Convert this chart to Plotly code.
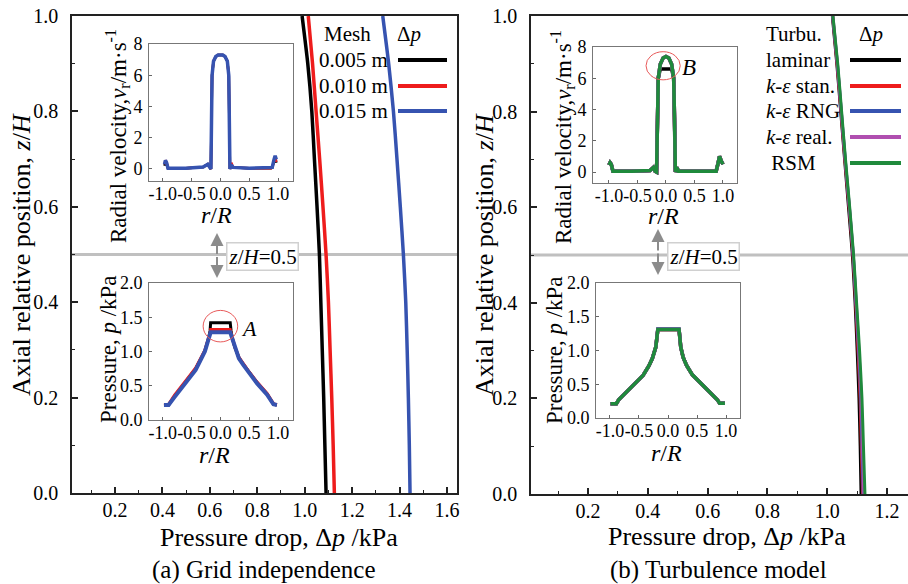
import plotly.graph_objects as go

W, H = 908, 584
def px(x):
    return x / W
def py(y):
    return 1 - y / H

FONT = "Liberation Serif, Times New Roman, Times, serif"

# ---------------- data: main panels ----------------
z_pos = [0.0, 0.1, 0.2, 0.3, 0.4, 0.5, 0.6, 0.7, 0.8, 0.9, 1.0]

mesh_labels = ["0.005 m", "0.010 m", "0.015 m"]
mesh_colors = ["#000000", "#ee1c1c", "#3653b0"]
dp_mesh_005 = [1.090, 1.085, 1.080, 1.074, 1.068, 1.062, 1.052, 1.041, 1.030, 1.013, 0.989]
dp_mesh_010 = [1.125, 1.120, 1.114, 1.107, 1.100, 1.090, 1.077, 1.063, 1.048, 1.033, 1.015]
dp_mesh_015 = [1.444, 1.441, 1.437, 1.432, 1.426, 1.416, 1.403, 1.389, 1.374, 1.354, 1.329]

turb_labels = ["laminar", "<i>k</i>-<i>ε</i> stan.", "<i>k</i>-<i>ε</i> RNG",
               "<i>k</i>-<i>ε</i> real.", " RSM"]
turb_colors = ["#000000", "#ee1c1c", "#3653b0", "#b04fb0", "#1f8a3c"]
dp_laminar = [1.113, 1.110, 1.106, 1.100, 1.093, 1.084, 1.071, 1.058, 1.045, 1.032, 1.017]
dp_ke_stan = [1.118, 1.114, 1.110, 1.103, 1.095, 1.086, 1.073, 1.059, 1.046, 1.033, 1.018]
dp_ke_rng = [1.120, 1.116, 1.112, 1.105, 1.096, 1.087, 1.074, 1.060, 1.047, 1.034, 1.018]
dp_ke_real = [1.122, 1.118, 1.114, 1.106, 1.097, 1.087, 1.074, 1.060, 1.047, 1.034, 1.019]
dp_rsm = [1.126, 1.121, 1.116, 1.108, 1.098, 1.088, 1.075, 1.061, 1.048, 1.035, 1.019]

# ---------------- data: insets ----------------
r_vel_a = [-0.97, -0.955, -0.935, -0.91, -0.60, -0.30, -0.22, -0.19, -0.165, -0.155, -0.145,
           -0.12, -0.08, -0.04, 0.0, 0.04, 0.08, 0.12, 0.145, 0.155, 0.165, 0.19, 0.22,
           0.50, 0.88, 0.90, 0.93, 0.95, 0.97]
vel_mesh_005 = [0.20, 0.50, 0.40, 0.05, 0.05, 0.12, 0.30, 0.10, 0.0, 3.0, 6.0,
                6.9, 7.2, 7.3, 7.3, 7.3, 7.2, 6.9, 6.0, 3.0, 0.0, 0.30, 0.10,
                0.05, 0.05, 0.10, 0.60, 0.80, 0.40]
vel_mesh_010 = [0.30, 0.55, 0.40, 0.05, 0.05, 0.12, 0.30, 0.10, 0.0, 3.0, 6.0,
                6.9, 7.2, 7.3, 7.3, 7.3, 7.2, 6.9, 6.0, 3.0, 0.0, 0.40, 0.10,
                0.05, 0.05, 0.10, 0.55, 0.75, 0.45]
vel_mesh_015 = [0.30, 0.55, 0.40, 0.05, 0.05, 0.12, 0.30, 0.10, 0.0, 3.0, 6.0,
                6.9, 7.2, 7.3, 7.3, 7.3, 7.2, 6.9, 6.0, 3.0, 0.0, 0.25, 0.10,
                0.05, 0.05, 0.10, 0.60, 0.85, 0.60]

r_p_a = [-0.98, -0.90, -0.80, -0.66, -0.54, -0.43, -0.34, -0.27, -0.21, -0.18, -0.17,
         0.17, 0.185, 0.21, 0.25, 0.32, 0.40, 0.50, 0.64, 0.81, 0.92, 0.98]
p_mesh_005 = [0.22, 0.22, 0.34, 0.50, 0.62, 0.75, 0.89, 1.01, 1.18, 1.30, 1.42,
              1.42, 1.30, 1.18, 1.06, 0.91, 0.81, 0.69, 0.54, 0.38, 0.23, 0.22]
p_mesh_010 = [0.22, 0.23, 0.36, 0.52, 0.64, 0.76, 0.90, 1.02, 1.19, 1.26, 1.32,
              1.32, 1.27, 1.19, 1.07, 0.92, 0.82, 0.70, 0.55, 0.39, 0.24, 0.22]
p_mesh_015 = [0.22, 0.22, 0.33, 0.48, 0.60, 0.73, 0.88, 1.00, 1.17, 1.24, 1.28,
              1.28, 1.24, 1.17, 1.05, 0.90, 0.80, 0.68, 0.53, 0.37, 0.23, 0.22]

r_vel_b = [-1.0, -0.98, -0.96, -0.93, -0.60, -0.28, -0.22, -0.19, -0.165, -0.15, -0.135,
           -0.10, -0.05, 0.0, 0.05, 0.10, 0.135, 0.15, 0.165, 0.19, 0.22,
           0.50, 0.88, 0.91, 0.94, 0.97, 1.0]
vel_laminar = [0.45, 0.60, 0.50, 0.05, 0.05, 0.10, 0.30, 0.05, 0.0, 3.5, 6.0,
               6.6, 6.6, 6.6, 6.6, 6.6, 6.0, 3.5, 0.0, 0.30, 0.05,
               0.05, 0.05, 0.50, 1.00, 0.70, 0.50]
vel_ke_stan = [0.45, 0.60, 0.50, 0.05, 0.05, 0.10, 0.30, 0.05, 0.0, 3.5, 6.0,
               6.9, 7.3, 7.4, 7.3, 6.9, 6.0, 3.5, 0.0, 0.30, 0.05,
               0.05, 0.05, 0.50, 1.00, 0.70, 0.50]
vel_ke_rng = [0.45, 0.60, 0.50, 0.05, 0.05, 0.10, 0.30, 0.05, 0.0, 3.5, 6.0,
              6.9, 7.3, 7.4, 7.3, 6.9, 6.0, 3.5, 0.0, 0.30, 0.05,
              0.05, 0.05, 0.50, 1.00, 0.70, 0.50]
vel_ke_real = [0.45, 0.60, 0.50, 0.05, 0.05, 0.10, 0.30, 0.05, 0.0, 3.5, 6.0,
               6.9, 7.3, 7.4, 7.3, 6.9, 6.0, 3.5, 0.0, 0.30, 0.05,
               0.05, 0.05, 0.50, 1.00, 0.70, 0.50]
vel_rsm = [0.45, 0.60, 0.50, 0.05, 0.05, 0.10, 0.30, 0.05, 0.0, 3.5, 6.0,
           6.9, 7.3, 7.4, 7.3, 6.9, 6.0, 3.5, 0.0, 0.30, 0.05,
           0.05, 0.05, 0.50, 1.00, 0.70, 0.50]

r_p_b = [-0.99, -0.89, -0.85, -0.71, -0.57, -0.43, -0.33, -0.27, -0.21, -0.185, -0.175,
         0.19, 0.20, 0.22, 0.26, 0.32, 0.42, 0.55, 0.67, 0.78, 0.85, 0.89, 0.98]
p_laminar = [0.21, 0.21, 0.27, 0.39, 0.50, 0.63, 0.77, 0.88, 1.05, 1.20, 1.31,
             1.31, 1.20, 1.05, 0.90, 0.78, 0.64, 0.53, 0.43, 0.34, 0.27, 0.22, 0.22]
p_ke_stan = [0.21, 0.21, 0.27, 0.39, 0.50, 0.63, 0.77, 0.88, 1.05, 1.20, 1.31,
             1.31, 1.20, 1.05, 0.90, 0.78, 0.64, 0.53, 0.43, 0.34, 0.27, 0.22, 0.22]
p_ke_rng = [0.21, 0.21, 0.27, 0.39, 0.50, 0.63, 0.77, 0.88, 1.05, 1.20, 1.32,
            1.32, 1.20, 1.05, 0.90, 0.78, 0.64, 0.53, 0.43, 0.34, 0.27, 0.22, 0.22]
p_ke_real = [0.21, 0.21, 0.27, 0.39, 0.50, 0.63, 0.77, 0.88, 1.05, 1.20, 1.31,
             1.31, 1.20, 1.05, 0.90, 0.78, 0.64, 0.53, 0.43, 0.34, 0.27, 0.22, 0.22]
p_rsm = [0.21, 0.21, 0.27, 0.39, 0.50, 0.63, 0.77, 0.88, 1.05, 1.20, 1.31,
         1.31, 1.20, 1.05, 0.90, 0.78, 0.64, 0.53, 0.43, 0.34, 0.27, 0.22, 0.22]

inset_r_ticks = [-1.0, -0.5, 0.0, 0.5, 1.0]
inset_r_ticktext = ["-1.0", "-0.5", "0.0", "0.5", "1.0"]

# ---------------- figure ----------------
fig = go.Figure()

dp_mesh = [dp_mesh_005, dp_mesh_010, dp_mesh_015]
vel_mesh = [vel_mesh_005, vel_mesh_010, vel_mesh_015]
p_mesh = [p_mesh_005, p_mesh_010, p_mesh_015]
for i in range(3):
    fig.add_trace(go.Scatter(x=dp_mesh[i], y=z_pos, mode="lines", line=dict(color=mesh_colors[i], width=3.5, shape="spline", smoothing=0.6),
                             xaxis="x", yaxis="y", name=mesh_labels[i]))
for i in range(3):
    fig.add_trace(go.Scatter(x=r_vel_a, y=vel_mesh[i], mode="lines", line=dict(color=mesh_colors[i], width=2.5 if i < 2 else 3.5),
                             xaxis="x3", yaxis="y3", showlegend=False))
for i in range(3):
    fig.add_trace(go.Scatter(x=r_p_a, y=p_mesh[i], mode="lines", line=dict(color=mesh_colors[i], width=3 if i < 2 else 4),
                             xaxis="x4", yaxis="y4", showlegend=False))

dp_turb = [dp_laminar, dp_ke_stan, dp_ke_rng, dp_ke_real, dp_rsm]
vel_turb = [vel_laminar, vel_ke_stan, vel_ke_rng, vel_ke_real, vel_rsm]
p_turb = [p_laminar, p_ke_stan, p_ke_rng, p_ke_real, p_rsm]
for i in range(5):
    fig.add_trace(go.Scatter(x=dp_turb[i], y=z_pos, mode="lines", line=dict(color=turb_colors[i], width=3, shape="spline", smoothing=0.6),
                             xaxis="x2", yaxis="y2", name=turb_labels[i]))
for i in range(5):
    fig.add_trace(go.Scatter(x=r_vel_b, y=vel_turb[i], mode="lines", line=dict(color=turb_colors[i], width=3.5),
                             xaxis="x5", yaxis="y5", showlegend=False))
for i in range(5):
    fig.add_trace(go.Scatter(x=r_p_b, y=p_turb[i], mode="lines", line=dict(color=turb_colors[i], width=3.5),
                             xaxis="x6", yaxis="y6", showlegend=False))

def main_x(domain, rng, anchor):
    return dict(domain=domain, range=rng, anchor=anchor, automargin=False,
                tickmode="linear", tick0=0, dtick=0.2, tickformat=".1f",
                ticks="inside", ticklen=6, tickwidth=1.5, tickcolor="#222",
                minor=dict(dtick=0.1, tick0=0, ticks="inside", ticklen=3, tickwidth=1.2, tickcolor="#222"),
                showline=True, linecolor="#222", linewidth=1.5, mirror=True, showgrid=False, zeroline=False,
                tickfont=dict(size=20, family=FONT, color="black"), ticklabelstandoff=-2, tickangle=0)

def main_y(domain, anchor, mirror):
    return dict(domain=domain, range=[0, 1.0], anchor=anchor, automargin=False,
                tickmode="linear", tick0=0, dtick=0.2, tickformat=".1f",
                ticks="inside", ticklen=6, tickwidth=1.5, tickcolor="#222",
                minor=dict(dtick=0.1, tick0=0, ticks="inside", ticklen=3, tickwidth=1.2, tickcolor="#222"),
                showline=True, linecolor="#222", linewidth=1.5, mirror=mirror, showgrid=False, zeroline=False,
                tickfont=dict(size=20, family=FONT, color="black"), ticklabelstandoff=8)

def inset_x(domain, rng, anchor):
    return dict(domain=domain, range=rng, anchor=anchor, automargin=False,
                tickmode="array", tickvals=inset_r_ticks,
                ticktext=inset_r_ticktext, ticks="inside", ticklen=3, tickcolor="#666",
                showline=True, linecolor="#777", linewidth=1, mirror=True, showgrid=False, zeroline=False,
                tickfont=dict(size=18, family=FONT, color="black"), ticklabelstandoff=-4, tickangle=0)

def inset_y(domain, rng, anchor, dtick, fmt):
    return dict(domain=domain, range=rng, anchor=anchor, automargin=False,
                tickmode="linear", tick0=0, dtick=dtick, tickformat=fmt,
                ticks="inside", ticklen=3, tickcolor="#666",
                showline=True, linecolor="#777", linewidth=1, mirror=True, showgrid=False, zeroline=False,
                tickfont=dict(size=18, family=FONT, color="black"), ticklabelstandoff=2)

fig.update_layout(
    template="none",
    width=W, height=H, margin=dict(l=0, r=0, t=0, b=0, pad=0, autoexpand=False),
    paper_bgcolor="white", plot_bgcolor="white", showlegend=False,
    font=dict(family=FONT, color="black"),
    xaxis=main_x([px(72), px(457)], [0.019, 1.642], "y"),
    yaxis=main_y([py(493), py(16)], "x", True),
    xaxis2=main_x([px(531), 1.0], [0.0094, 1.270], "y2"),
    yaxis2=main_y([py(494), py(16)], "x2", False),
    xaxis3=inset_x([px(149), px(293)], [-1.24, 1.26], "y3"),
    yaxis3=inset_y([py(181), py(44)], [-0.77, 8.0], "x3", 2, "d"),
    xaxis4=inset_x([px(149), px(293)], [-1.24, 1.26], "y4"),
    yaxis4=inset_y([py(420), py(283)], [0, 2.0], "x4", 0.5, ".1f"),
    xaxis5=inset_x([px(593), px(737)], [-1.28, 1.246], "y5"),
    yaxis5=inset_y([py(183), py(47)], [-0.70, 8.0], "x5", 2, "d"),
    xaxis6=inset_x([px(596), px(740)], [-1.24, 1.24], "y6"),
    yaxis6=inset_y([py(418), py(283)], [0, 2.0], "x6", 0.5, ".1f"),
)

shapes = []
ann = []

def text(x, y, s, size, xanchor="center", angle=0, **kw):
    ann.append(dict(x=px(x), y=py(y), xref="paper", yref="paper", text=s, showarrow=False,
                    xanchor=xanchor, yanchor="middle", textangle=angle,
                    font=dict(size=size, family=FONT, color="black"), **kw))

# z/H = 0.5 reference lines
for xr, yr in [("x domain", "y"), ("x2 domain", "y2")]:
    shapes.append(dict(type="line", xref=xr, yref=yr, x0=0, x1=1, y0=0.5, y1=0.5,
                       line=dict(color="#c0c0c0", width=3), layer="below"))

# z/H label boxes
text(262.5, 256, "<i>z</i>/<i>H</i>=0.5", 21, bgcolor="white", bordercolor="#d0d0d0", borderwidth=1.5, borderpad=1)
text(703, 256, "<i>z</i>/<i>H</i>=0.5", 21, bgcolor="white", bordercolor="#d0d0d0", borderwidth=1.5, borderpad=1)

# double arrows
for ax_x, top, bot in [(217, 233, 278), (658, 229, 275)]:
    mid = (top + bot) / 2
    for tip in (top, bot):
        ann.append(dict(x=px(ax_x), y=py(tip), xref="paper", yref="paper", text="", showarrow=True,
                        ax=0, ay=mid - tip, axref="pixel", ayref="pixel", arrowhead=2, arrowsize=1.3,
                        arrowwidth=2, arrowcolor="#8c8c8c"))

# legends (a)
text(347, 34, "Mesh", 21)
text(409, 34, "Δ<i>p</i>", 21)
for i, lab in enumerate(mesh_labels):
    yy = [60, 86, 111][i]
    text(317, yy, lab, 21, xanchor="left")
    shapes.append(dict(type="line", xref="paper", yref="paper", x0=px(398), x1=px(447), y0=py(yy), y1=py(yy),
                       line=dict(color=mesh_colors[i], width=4)))
# legends (b)
text(764, 34, "Turbu.", 21, xanchor="left")
text(871, 34, "Δ<i>p</i>", 21)
for i, lab in enumerate(turb_labels):
    yy = [60, 86, 111, 137, 163][i]
    text(764, yy, lab, 21, xanchor="left")
    shapes.append(dict(type="line", xref="paper", yref="paper", x0=px(850), x1=px(901), y0=py(yy), y1=py(yy),
                       line=dict(color=turb_colors[i], width=4)))

# main axis titles
text(21, 255, "Axial relative position, <i>z</i>/<i>H</i>", 26, angle=-90)
text(484, 255, "Axial relative position, <i>z</i>/<i>H</i>", 26, angle=-90)
text(279, 537, "Pressure drop, Δ<i>p</i> /kPa", 26)
text(727, 536, "Pressure drop, Δ<i>p</i> /kPa", 26)
text(264, 570, "(a) Grid independence", 25)
text(718, 570, "(b) Turbulence model", 25)

# inset titles
vel_title = "Radial velocity,<i>v</i><sub>r</sub>/m·s<sup>-1</sup>"
p_title = "Pressure, <i>p</i> /kPa"
text(117, 136, vel_title, 23, angle=-90)
text(108, 349, p_title, 23, angle=-90)
text(562, 137, vel_title, 23, angle=-90)
text(554, 350, p_title, 23, angle=-90)
text(216, 215, "<i>r</i>/<i>R</i>", 24)
text(214, 455, "<i>r</i>/<i>R</i>", 24)
text(663, 216, "<i>r</i>/<i>R</i>", 24)
text(666, 453, "<i>r</i>/<i>R</i>", 24)

# highlight circles
shapes.append(dict(type="circle", xref="x4", yref="y4", x0=-0.30, x1=0.30, y0=1.14, y1=1.60,
                   line=dict(color="#e85a5a", width=1)))
ann.append(dict(x=0.50, y=1.33, xref="x4", yref="y4", text="<i>A</i>", showarrow=False,
                font=dict(size=22, family=FONT, color="black")))
shapes.append(dict(type="circle", xref="x5", yref="y5", x0=-0.35, x1=0.25, y0=5.9, y1=7.7,
                   line=dict(color="#e85a5a", width=1)))
ann.append(dict(x=0.40, y=6.7, xref="x5", yref="y5", text="<i>B</i>", showarrow=False,
                font=dict(size=23, family=FONT, color="black")))

fig.update_layout(shapes=shapes, annotations=ann)
fig.write_html("out.html", config={"displayModeBar": False},
               post_script="document.body.style.margin='0px';")
